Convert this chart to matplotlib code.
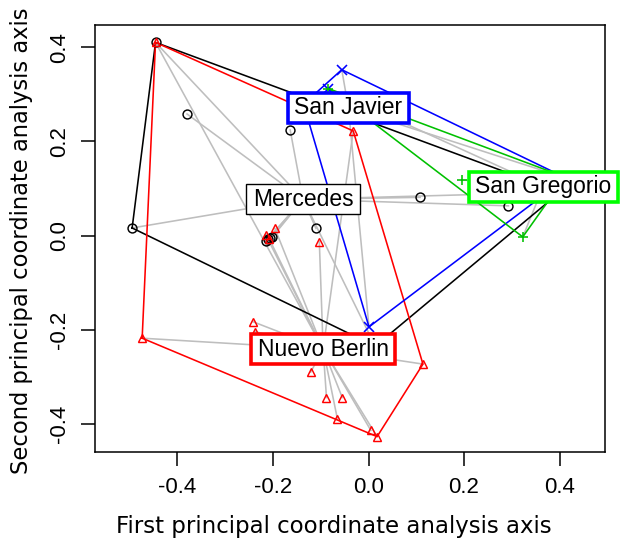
import matplotlib
matplotlib.use("Agg")
import matplotlib.pyplot as plt
from matplotlib.patches import Rectangle
import numpy as np

# site scores on the first two PCoA axes, by locality
mercedes_x = [-0.446, -0.380, -0.164, -0.495, -0.215, -0.210, -0.206, -0.202, -0.110, 0.108, 0.293, 0.401, 0.014]
mercedes_y = [0.410, 0.258, 0.224, 0.016, -0.012, -0.008, -0.006, -0.004, 0.015, 0.081, 0.063, 0.092, -0.235]

berlin_x = [-0.446, -0.032, -0.474, -0.242, -0.238, -0.121, -0.088, -0.055, -0.065, 0.005, 0.018, 0.114, -0.103, -0.196, -0.215, -0.208]
berlin_y = [0.410, 0.222, -0.218, -0.183, -0.204, -0.290, -0.344, -0.344, -0.390, -0.414, -0.427, -0.273, -0.013, 0.015, 0.001, -0.007]

javier_x = [-0.056, -0.084, -0.136, 0.001, 0.414]
javier_y = [0.352, 0.312, 0.279, -0.194, 0.122]

gregorio_x = [-0.084, 0.195, 0.323, 0.412]
gregorio_y = [0.312, 0.118, -0.003, 0.124]

# spider centres (where the labels sit)
group_names = ["Mercedes", "Nuevo Berlin", "San Javier", "San Gregorio"]
centre_x = [-0.137, -0.095, -0.042, 0.366]
centre_y = [0.077, -0.241, 0.271, 0.104]

xticks = [-0.4, -0.2, 0.0, 0.2, 0.4]
yticks = [-0.4, -0.2, 0.0, 0.2, 0.4]


def hull(xs, ys):
    pts = sorted(set(zip(xs, ys)))
    def cross(o, a, b):
        return (a[0]-o[0])*(b[1]-o[1]) - (a[1]-o[1])*(b[0]-o[0])
    lower, upper = [], []
    for p in pts:
        while len(lower) >= 2 and cross(lower[-2], lower[-1], p) <= 0:
            lower.pop()
        lower.append(p)
    for p in reversed(pts):
        while len(upper) >= 2 and cross(upper[-2], upper[-1], p) <= 0:
            upper.pop()
        upper.append(p)
    h = lower[:-1] + upper[:-1]
    h.append(h[0])
    return [p[0] for p in h], [p[1] for p in h]


groups = [
    (mercedes_x, mercedes_y, "black", "o", "black", 1.0),
    (berlin_x, berlin_y, "#FF0000", "^", "#FF0000", 2.6),
    (javier_x, javier_y, "#0000FF", "x", "#0000FF", 2.6),
    (gregorio_x, gregorio_y, "#00C000", "+", "#00FF00", 2.6),
]

fig = plt.figure(figsize=(6.22, 5.46), dpi=100)
ax = fig.add_axes([0.1527, 0.1716, 0.82, 0.7817])

# spiders
for i, (gx, gy, col, mk, bcol, blw) in enumerate(groups):
    for px, py in zip(gx, gy):
        ax.plot([centre_x[i], px], [centre_y[i], py], color="#BEBEBE", lw=1.15, zorder=1)

# hulls
for gx, gy, col, mk, bcol, blw in groups:
    hx, hy = hull(gx, gy)
    ax.plot(hx, hy, color=col, lw=1.15, zorder=2)

# points
for gx, gy, col, mk, bcol, blw in groups:
    if mk in ("o", "^"):
        ax.plot(gx, gy, linestyle="none", marker=mk, ms=6.4, mfc="none", mec=col, mew=1.05, zorder=3)
    else:
        ax.plot(gx, gy, linestyle="none", marker=mk, ms=7.5, color=col, mew=1.15, zorder=3)

ax.set_xlim(-0.5728, 0.4953)
ax.set_ylim(-0.4603, 0.4459)
ax.set_xticks(xticks)
ax.set_yticks(yticks)
ax.set_xticklabels([f"{t:.1f}" for t in xticks], family="Liberation Sans", fontsize=16)
ax.set_yticklabels([f"{t:.1f}" for t in yticks], family="Liberation Sans", fontsize=16,
                   rotation=90, va="center")
ax.tick_params(direction="out", length=10, width=1.1, pad=8)
for s in ax.spines.values():
    s.set_linewidth(1.1)

# labels, boxed a bit wider than tall like R's ordispider labels
labels = []
for i, (gx, gy, col, mk, bcol, blw) in enumerate(groups):
    t = ax.text(centre_x[i], centre_y[i], group_names[i], family="Liberation Sans", fontsize=16.5,
                ha="center", va="center", zorder=6)
    labels.append((t, bcol, blw))

fig.canvas.draw()
rend = fig.canvas.get_renderer()
padx, pady = 6.5, 3.5
for t, bcol, blw in labels:
    bb = t.get_window_extent(rend)
    (x0, y0), (x1, y1) = ax.transAxes.inverted().transform([(bb.x0 - padx, bb.y0 - pady),
                                                             (bb.x1 + padx, bb.y1 + pady)])
    ax.add_patch(Rectangle((x0, y0), x1 - x0, y1 - y0, transform=ax.transAxes,
                           fc="white", ec=bcol, lw=blw, zorder=5, clip_on=False))

fig.text(334/622, 1-527/546, "First principal coordinate analysis axis", fontsize=16.5,
         ha="center", va="center")
fig.text(22/622, 1-241/546, "Second principal coordinate analysis axis", fontsize=16.3,
         ha="center", va="center", rotation=90)

plt.savefig("out.png", dpi=100)
